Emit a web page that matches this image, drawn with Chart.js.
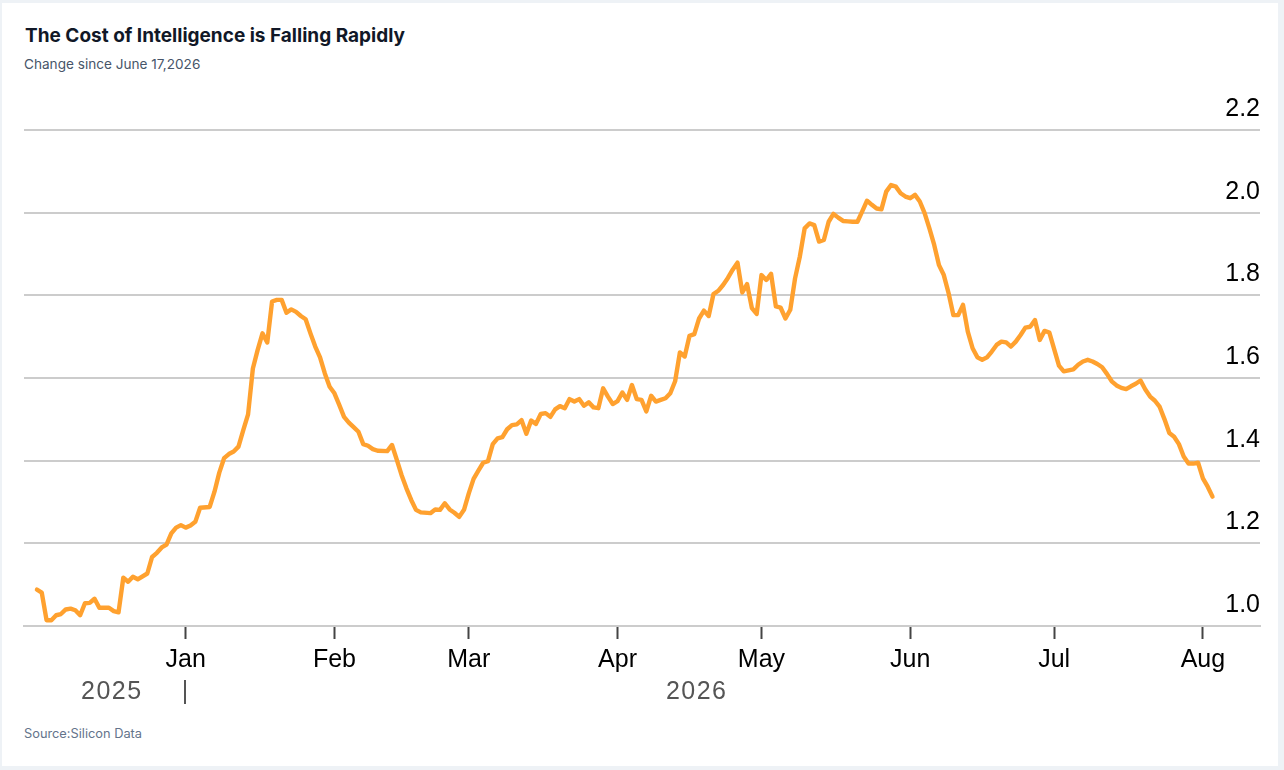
<!DOCTYPE html>
<html>
<head>
<meta charset="utf-8">
<script src="https://cdn.jsdelivr.net/npm/chart.js@4.4.1/dist/chart.umd.min.js"></script>
<style>
  html, body { margin: 0; padding: 0; }
  body { width: 1284px; height: 770px; background: #eef2f6; position: relative; overflow: hidden; }
  .card { position: absolute; left: 2px; top: 3px; width: 1276px; height: 763px; background: #fff; }
  .title { position: absolute; left: 23px; top: 21px; font: 700 19px Inter, sans-serif; color: #111827; }
  .subtitle { position: absolute; left: 22px; top: 53px; font: 400 13.6px Inter, sans-serif; color: #475569; }
  .source { position: absolute; left: 22px; top: 723px; font: 400 12.8px Inter, sans-serif; color: #64748b; }
  .wrap { position: absolute; left: -2px; top: 74px; width: 1284px; height: 643px; }
</style>
</head>
<body>
<div class="card">
  <div class="title">The Cost of Intelligence is Falling Rapidly</div>
  <div class="subtitle">Change since June 17,2026</div>
  <div class="source">Source:Silicon Data</div>
  <div class="wrap"><canvas id="chart"></canvas></div>
</div>
<script>
// day 0 = Dec 1, 2025
const days = [0,1,2,3,4,5,6,7,8,9,10,11,12,13,15,16,17,18,19,20,21,23,24,25,26,27,28,29,30,31,32,33,34,36,37,38,39,40,41,42,43,44,45,46,47,48,49,50,51,52,53,54,55,56,57,58,59,60,61,62,63,64,65,66,67,68,69,70,71,73,74,75,76,77,78,79,80,82,83,84,85,86,87,88,89,90,91,92,93,94,95,96,97,98,99,100,101,102,103,104,105,106,107,108,109,110,111,112,113,114,115,116,117,118,119,120,121,122,123,124,125,126,127,128,129,130,131,132,133,134,135,136,137,138,139,140,141,142,143,144,145,146,147,148,149,150,151,152,153,154,155,156,157,158,159,160,161,162,163,164,165,166,167,168,169,170,171,172,173,174,175,176,177,178,179,180,181,182,183,184,185,186,187,188,189,190,191,192,193,194,195,196,197,198,199,200,201,202,203,204,205,206,207,208,209,210,211,212,213,214,216,217,218,219,220,221,222,223,224,225,226,227,228,229,230,231,232,233,234,235,236,237,238,239,240,241,242,243,244,245];
const values = [1.088,1.081,1.014,1.014,1.026,1.029,1.040,1.042,1.038,1.026,1.055,1.056,1.066,1.044,1.044,1.036,1.033,1.117,1.107,1.119,1.113,1.127,1.167,1.177,1.190,1.197,1.224,1.238,1.244,1.238,1.243,1.252,1.286,1.288,1.325,1.371,1.406,1.416,1.422,1.434,1.474,1.512,1.623,1.668,1.708,1.686,1.785,1.789,1.789,1.758,1.766,1.760,1.750,1.742,1.708,1.676,1.650,1.611,1.579,1.563,1.535,1.506,1.492,1.481,1.470,1.440,1.436,1.428,1.424,1.423,1.438,1.402,1.365,1.333,1.305,1.281,1.275,1.273,1.282,1.281,1.297,1.282,1.274,1.264,1.281,1.321,1.356,1.376,1.395,1.399,1.440,1.454,1.457,1.476,1.486,1.488,1.498,1.465,1.497,1.489,1.513,1.515,1.506,1.524,1.532,1.527,1.549,1.543,1.549,1.533,1.541,1.529,1.527,1.575,1.555,1.537,1.544,1.565,1.547,1.583,1.549,1.547,1.519,1.557,1.543,1.547,1.551,1.563,1.592,1.662,1.652,1.702,1.706,1.744,1.763,1.750,1.803,1.811,1.825,1.842,1.862,1.879,1.807,1.827,1.769,1.755,1.849,1.837,1.852,1.773,1.770,1.744,1.765,1.841,1.894,1.962,1.974,1.970,1.930,1.934,1.978,1.997,1.988,1.980,1.979,1.978,1.978,2.003,2.029,2.019,2.010,2.008,2.051,2.067,2.063,2.047,2.039,2.035,2.043,2.027,1.999,1.962,1.922,1.873,1.849,1.805,1.752,1.752,1.777,1.712,1.672,1.650,1.644,1.650,1.664,1.680,1.688,1.686,1.676,1.688,1.704,1.722,1.724,1.740,1.692,1.714,1.710,1.670,1.630,1.616,1.621,1.632,1.640,1.644,1.640,1.634,1.626,1.610,1.592,1.582,1.576,1.573,1.580,1.586,1.594,1.572,1.555,1.545,1.530,1.500,1.467,1.458,1.440,1.410,1.393,1.393,1.395,1.357,1.337,1.313];

const monthDays = [31, 62, 90, 121, 151, 182, 212, 243];
const monthLabels = ['Jan', 'Feb', 'Mar', 'Apr', 'May', 'Jun', 'Jul', 'Aug'];
const yearDays = [15.6, 31, 137.5];
const yearLabels = ['2025', '|', '2026'];

const yearRow = {
    id: 'yearRow',
    afterDraw(chart) {
        const ctx = chart.ctx;
        const x = chart.scales.x;
        ctx.save();
        ctx.fillStyle = '#555';
        ctx.font = '25px "Liberation Sans", Arial, sans-serif';
        ctx.textAlign = 'center';
        ctx.textBaseline = 'middle';
        if ('letterSpacing' in ctx) ctx.letterSpacing = '1.5px';
        yearLabels.forEach((t, i) => {
            ctx.fillText(t, x.getPixelForValue(yearDays[i]), chart.chartArea.bottom + 66);
        });
        ctx.restore();
    }
};

new Chart(document.getElementById('chart'), {
    type: 'line',
    data: {
        datasets: [{
            data: days.map((d, i) => ({ x: d, y: values[i] })),
            borderColor: '#ffa12f',
            borderWidth: 4.4,
            pointRadius: 0,
            tension: 0,
            borderJoinStyle: 'round',
            borderCapStyle: 'round',
            fill: false
        }]
    },
    options: {
        responsive: true,
        maintainAspectRatio: false,
        animation: false,
        layout: {
            padding: { left: 24, right: 24, top: 53, bottom: 0 }
        },
        plugins: {
            legend: { display: false },
            tooltip: { enabled: false }
        },
        scales: {
            x: {
                type: 'linear',
                min: -2.7,
                max: 254.9,
                afterBuildTicks: (scale) => {
                    scale.ticks = monthDays.map(v => ({ value: v }));
                },
                afterFit: (scale) => { scale.height = 94; },
                ticks: {
                    autoSkip: false,
                    maxRotation: 0,
                    padding: 6,
                    color: '#000',
                    font: { family: '"Liberation Sans", Arial, sans-serif', size: 25 },
                    callback: (v) => monthLabels[monthDays.indexOf(v)]
                },
                grid: {
                    drawOnChartArea: false,
                    drawTicks: true,
                    tickLength: 13,
                    tickColor: '#444',
                    tickWidth: 2
                },
                border: { display: true, color: '#cccccc', width: 2 }
            },
            y: {
                position: 'right',
                min: 1.0,
                max: 2.2,
                afterFit: (scale) => { scale.width = 0; },
                ticks: {
                    stepSize: 0.2,
                    mirror: true,
                    padding: 0,
                    labelOffset: -21,
                    color: '#000',
                    font: { family: '"Liberation Sans", Arial, sans-serif', size: 25 },
                    callback: (v) => v.toFixed(1)
                },
                grid: {
                    color: '#cccccc',
                    lineWidth: 2,
                    drawTicks: false
                },
                border: { display: false }
            }
        }
    },
    plugins: [yearRow]
});
</script>
</body>
</html>
